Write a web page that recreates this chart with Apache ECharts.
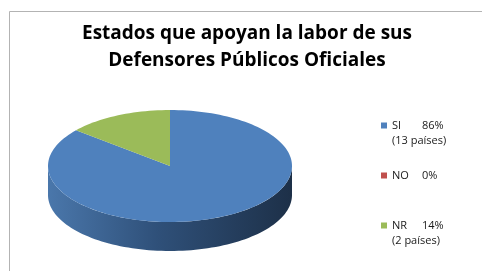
<!DOCTYPE html>
<html><head><meta charset="utf-8">
<script src="https://cdn.jsdelivr.net/npm/echarts@6/dist/echarts.min.js"></script>
<style>html,body{margin:0;padding:0;background:#fff}#c{width:483px;height:271px}</style>
</head><body><div id="c"></div>
<script>
var categories = ['SI', 'NO', 'NR'];
var values = [86, 0, 14];
var pctLabels = ['86%', '0%', '14%'];
var countLabels = ['(13 países)', '', '(2 países)'];
var titleText = 'Estados que apoyan la labor de sus\nDefensores Públicos Oficiales';

var topColors = ['#4f81bd', '#c0504d', '#9bbb59'];
var sideColors = [['#4a77ab', '#2f5079', '#1d3048'], ['#a84744', '#7a3331', '#5c2422'], ['#87a54c', '#6a8240', '#4a5c28']];

var chart = echarts.init(document.getElementById('c'), null, {renderer: 'canvas'});
var total = values.reduce(function (a, b) { return a + b; }, 0);
var cx = 170, cy = 166, rx = 122, ry = 56, depth = 29;

function pt(th, dy) {
  var r = th * Math.PI / 180;
  return [cx + rx * Math.cos(r), cy - ry * Math.sin(r) + (dy || 0)];
}
function arcPts(a1, a2, dy) {
  var pts = [], n = Math.max(2, Math.ceil(Math.abs(a2 - a1) / 2));
  for (var i = 0; i <= n; i++) pts.push(pt(a1 + (a2 - a1) * i / n, dy));
  return pts;
}

function makeSeries(idx) {
  var cum = 0;
  for (var i = 0; i < idx; i++) cum += values[i];
  var aStart = 90 - 360 * cum / total;
  var aEnd = 90 - 360 * (cum + values[idx]) / total;
  return {
    type: 'custom',
    name: categories[idx],
    coordinateSystem: 'none',
    itemStyle: {color: topColors[idx]},
    data: [values[idx]],
    silent: true,
    renderItem: function () {
      var children = [];
      if (values[idx] > 0) {
        var fronts = [[-180, 0], [-540, -360], [180, 360]];
        fronts.forEach(function (f) {
          var lo = Math.max(aEnd, f[0]), hi = Math.min(aStart, f[1]);
          if (hi > lo) {
            var topEdge = arcPts(lo, hi, 0);
            var botEdge = arcPts(hi, lo, depth);
            children.push({
              type: 'polygon',
              shape: {points: topEdge.concat(botEdge)},
              style: {
                fill: new echarts.graphic.LinearGradient(0, 0, 1, 0, [
                  {offset: 0, color: sideColors[idx][0]},
                  {offset: 0.45, color: sideColors[idx][1]},
                  {offset: 1, color: sideColors[idx][2]}
                ])
              }
            });
          }
        });
        var top = [[cx, cy]].concat(arcPts(aStart, aEnd, 0));
        children.push({
          type: 'polygon',
          shape: {points: top},
          style: {fill: topColors[idx]}
        });
      }
      return {type: 'group', children: children};
    }
  };
}

var series = categories.map(function (c, i) { return makeSeries(i); });

chart.setOption({
  animation: false,
  title: {
    text: titleText,
    left: 242, top: 15, textAlign: 'center',
    textStyle: {fontFamily: 'Open Sans', fontWeight: 'bold', fontSize: 19, lineHeight: 27, color: '#000'}
  },
  legend: {
    orient: 'vertical',
    left: 376, top: 98,
    itemWidth: 6, itemHeight: 6, icon: 'rect',
    itemGap: 5,
    data: categories,
    formatter: function (name) {
      var i = categories.indexOf(name);
      return '\n{n|' + name + '}{p|' + pctLabels[i] + '}\n{c|' + (countLabels[i] || ' ') + '}';
    },
    textStyle: {
      fontFamily: 'Open Sans', fontSize: 11, color: '#1a1a1a', lineHeight: 15,
      rich: {
        n: {width: 30, fontFamily: 'Open Sans', fontSize: 11, lineHeight: 15, color: '#1a1a1a'},
        p: {fontFamily: 'Open Sans', fontSize: 11, lineHeight: 15, color: '#1a1a1a'},
        c: {fontFamily: 'Open Sans', fontSize: 11, lineHeight: 15, color: '#1a1a1a'}
      }
    }
  },
  graphic: [
    {type: 'line', shape: {x1: 9.5, y1: 11.5, x2: 482, y2: 11.5}, style: {stroke: '#b3b3b3', lineWidth: 1}},
    {type: 'line', shape: {x1: 9.5, y1: 11.5, x2: 9.5, y2: 271}, style: {stroke: '#b3b3b3', lineWidth: 1}}
  ],
  series: series
});
</script></body></html>
